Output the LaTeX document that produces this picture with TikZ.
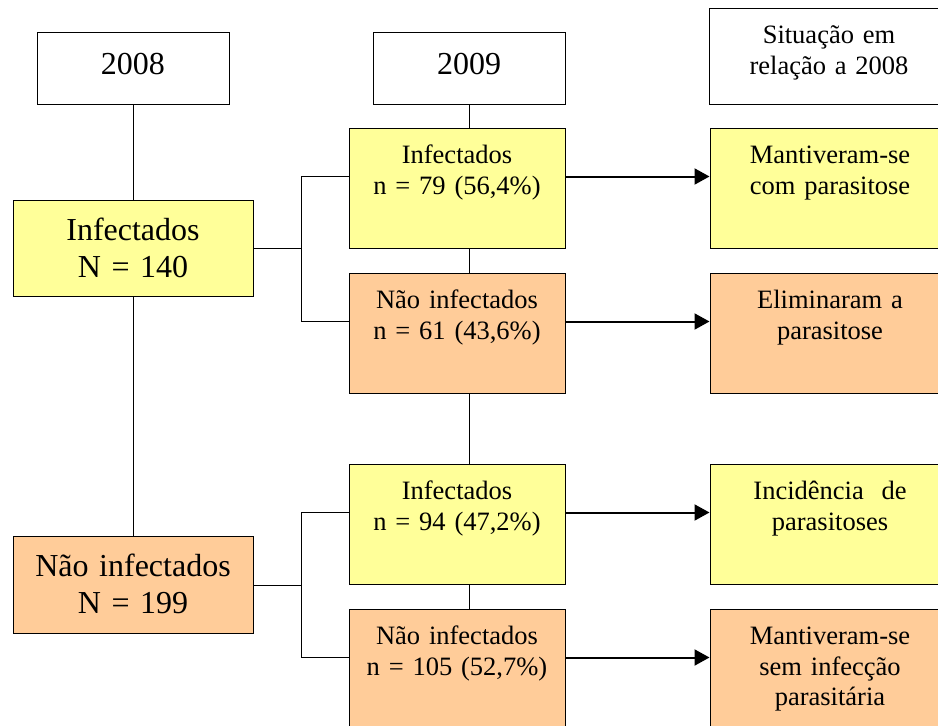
\documentclass[tikz,border=0pt]{standalone}
\usepackage{fontspec}
\setmainfont{Liberation Serif}
\usepackage{tikz}
\usetikzlibrary{arrows.meta,positioning}
\definecolor{infyellow}{RGB}{255,255,153}
\definecolor{nonorange}{RGB}{255,204,153}

\begin{document}
\begin{tikzpicture}[
        x=1pt,
        y=-1pt,
        cell/.style={draw, line width=1pt, inner sep=0pt, align=center, anchor=north},
        big/.style={font=\fontsize{32}{37}\selectfont},
        small/.style={font=\fontsize{26.5}{30.5}\selectfont},
        yearbox/.style={cell, big, text width=192pt, text height=42pt, text depth=30pt},
        headbox/.style={cell, small, text width=240pt, text height=35pt, text depth=61pt},
        firstbox/.style={cell, big, text width=240pt, text height=40pt, text depth=56pt},
        midbox/.style={cell, small, text width=216pt, text height=35pt, text depth=85pt},
        lastbox/.style={cell, small, text width=240pt, text height=35pt, text depth=85pt},
        inf/.style={fill=infyellow},
        non/.style={fill=nonorange},
        link/.style={line width=1pt},
        flow/.style={-{Triangle[length=15pt, width=16pt]}, line width=2pt}
    ]
        \useasboundingbox (0,0) rectangle (938,726);
        \clip (0,0) rectangle (938,726);

        % Column heads.
        \node[yearbox] (y08) at (133,32) {2008};
        \node[yearbox] (y09) at (469,32) {2009};
        \node[headbox] (sit) at (829,8) {Situação em\\relação a 2008};

        % 2008.
        \node[firstbox, inf] (inf08) at (133,200) {Infectados\\N = 140};
        \node[firstbox, non, text depth=57pt] (non08) at (133,536) {Não infectados\\N = 199};

        % 2009.
        \node[midbox, inf] (inf09a) at (457,128) {Infectados\\n = 79 (56,4\%)};
        \node[midbox, non, below=24pt of inf09a] (non09a) {Não infectados\\n = 61 (43,6\%)};
        \node[midbox, inf] (inf09b) at (457,464) {Infectados\\n = 94 (47,2\%)};
        \node[midbox, non, below=24pt of inf09b] (non09b) {Não infectados\\n = 105 (52,7\%)};

        % Situation compared with 2008.
        \node[lastbox, inf, right=144pt of inf09a] (kept) {Mantiveram-se\\com parasitose};
        \node[lastbox, non, right=144pt of non09a] (cleared) {Eliminaram a\\parasitose};
        \node[lastbox, inf, right=144pt of inf09b] (incid) {Incidência\ \ de\\parasitoses};
        \node[lastbox, non, right=144pt of non09b] (stayed) {Mantiveram-se\\sem infecção\\parasitária};

        \draw[link] (y08) -- (inf08);
        \draw[link] (inf08) -- (non08);
        \draw[link] (y09) -- (y09 |- inf09a.north);
        \foreach \a/\b in {inf09a/non09a,non09a/inf09b,inf09b/non09b} {
            \draw[link] (\a.south -| y09) -- (\b.north -| y09);
        }

        \draw[link] (inf08.east) -- ++(48,0) coordinate (fork1);
        \draw[link] ([yshift=12pt]inf09a.west) -| (fork1) |- ([yshift=12pt]non09a.west);
        \draw[link] (non08.east) -- ++(48,0) coordinate (fork2);
        \draw[link] ([yshift=12pt]inf09b.west) -| (fork2) |- ([yshift=12pt]non09b.west);

        \foreach \a/\b in {inf09a/kept,non09a/cleared,inf09b/incid,non09b/stayed} {
            \draw[flow] ([yshift=12pt]\a.east) -- ([yshift=12pt]\b.west);
        }
    \end{tikzpicture}
\end{document}
